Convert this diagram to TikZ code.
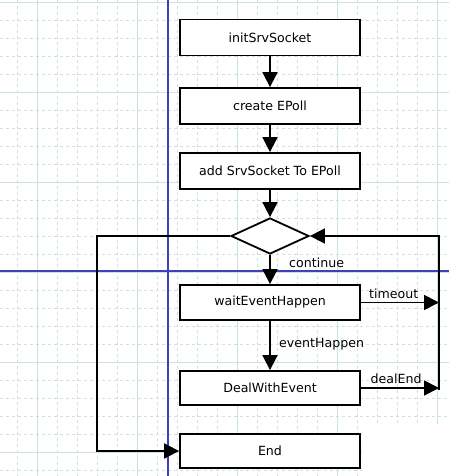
\documentclass[tikz,border=0pt]{standalone}
\usepackage{fontspec}
\setmainfont{DejaVu Sans}
\usetikzlibrary{arrows.meta, shapes.geometric, positioning}
\definecolor{gridLine}{RGB}{204,226,226}
\definecolor{pageLine}{RGB}{64,64,184}
\tikzset{
    flowBlock/.style={
        draw=black, fill=white, line width=1.8pt, minimum width=180pt, minimum height=36pt, inner sep=0pt, font=\fontsize{12.6}{15}\selectfont
    },
    flowDecision/.style={
        diamond, draw=black, fill=white, line width=1.8pt, minimum width=78pt, minimum height=36pt, inner sep=0pt
    },
    flowArrow/.style={
        -{Triangle[length=15pt, width=15pt]}, line width=1.8pt, draw=black
    },
    flowLabel/.style={
        font=\fontsize{12.6}{15}\selectfont
    },
    gridMinor/.style={
        draw=gridLine, line width=0.8pt, dash pattern=on 3pt off 3pt
    },
    gridMajor/.style={
        draw=gridLine, line width=0.8pt
    }
}
\begin{document}
\begin{tikzpicture}[x=1pt, y=-1pt]
    \useasboundingbox (0,0) rectangle (449,476);

    % ── BACKGROUND GRID
    \foreach \gx in {17,37,...,437} \draw[gridMinor] (\gx,0) -- (\gx,476);
    \foreach \gy in {2,20,...,470} \draw[gridMinor] (0,\gy) -- (449,\gy);
    \foreach \gx in {37,137,...,437} \draw[gridMajor] (\gx,0) -- (\gx,476);
    \foreach \gy in {2,92,...,452} \draw[gridMajor] (0,\gy) -- (449,\gy);
    \fill[white] (362,424) rectangle (449,476);

    % ── PAGE BREAK LINES
    \draw[pageLine, line width=1.2pt] (168,0) -- (168,476);
    \draw[pageLine, line width=1.2pt] (0,271) -- (449,271);

    % ── BLOCKS
    \node[flowBlock] (initSock) at (270,37.5) {initSrvSocket};
    \node[flowBlock] (createPoll) at (270,106) {create EPoll};
    \node[flowBlock] (addSock) at (270,171) {add SrvSocket To EPoll};
    \node[flowDecision] (loopCheck) at (270,236) {};
    \node[flowBlock, minimum height=35pt] (waitEvent) at (270,302.5) {waitEventHappen};
    \node[flowBlock, minimum height=34pt] (dealEvent) at (270,388) {DealWithEvent};
    \node[flowBlock, minimum height=34pt] (endBlock) at (270,451) {End};

    \coordinate (railTop) at (439,236);
    \coordinate (railBot) at (439,390);
    \coordinate (leftTop) at (97,236);

    % ── CONNECTORS & ARROWS
    \draw[flowArrow] (initSock) -- (createPoll);
    \draw[flowArrow] (createPoll) -- (addSock);
    \draw[flowArrow] (addSock) -- (loopCheck);
    \draw[flowArrow] (loopCheck) -- node[flowLabel, right=15pt, pos=0.26] {continue} (waitEvent);
    \draw[flowArrow] (waitEvent) -- node[flowLabel, right=5pt, pos=0.47] {eventHappen} (dealEvent);
    \draw[flowArrow] (waitEvent.east) -- node[flowLabel, above, pos=0.42] {timeout} (waitEvent.east -| railTop);
    \draw[flowArrow] (dealEvent.east) -- node[flowLabel, above, pos=0.45] {dealEnd} (dealEvent.east -| railTop);
    \draw[flowArrow] (railBot) -- (railTop) -- (loopCheck.east);
    \draw[flowArrow] (loopCheck.west) -- (leftTop) |- (endBlock.west);
\end{tikzpicture}
\end{document}
